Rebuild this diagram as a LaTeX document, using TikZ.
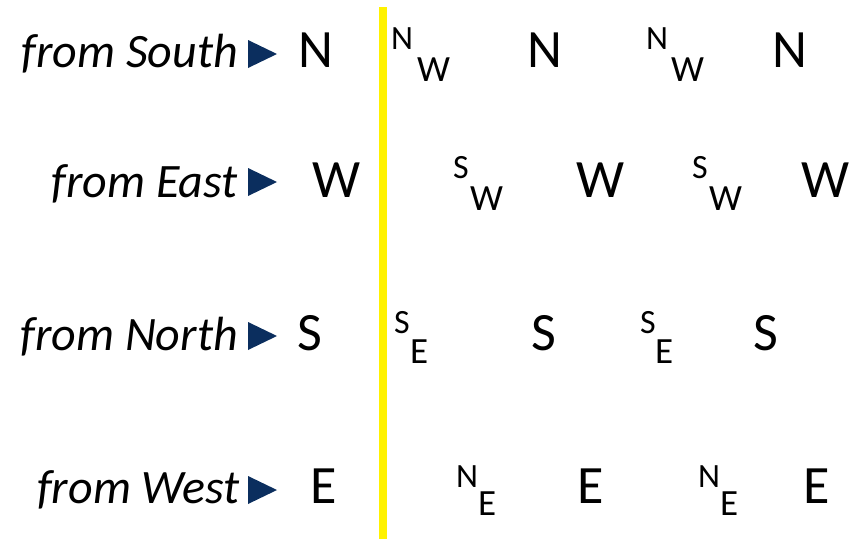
\documentclass[tikz,border=0pt]{standalone}
\usepackage{fontspec}
\setmainfont{Carlito}
\usetikzlibrary{calc}

\definecolor{navy}{RGB}{11,46,94}
\tikzset{
  from/.style={font=\fontsize{48}{50}\selectfont\itshape,anchor=base east,inner sep=0pt},
  dir/.style={font=\fontsize{54}{56}\selectfont,anchor=base west,inner sep=0pt},
  hi/.style={font=\fontsize{34}{36}\selectfont,anchor=base west,inner sep=0pt},
  lo/.style={font=\fontsize{37}{40}\selectfont,anchor=base west,inner sep=0pt},
  pointer/.style={fill=navy}
}

\begin{document}
\begin{tikzpicture}[x=1pt,y=-1pt]
  \useasboundingbox (0,0) rectangle (855,539);
  \fill[yellow] (379,7) rectangle (387,539);

  \node[from] (F1) at (238,67) {from South};
  \node[from] (F2) at (238,197) {from East};
  \node[from] (F3) at (238,350) {from North};
  \node[from] (F4) at (240,503) {from West};

  \fill[pointer] (248,40) -- (277,54) -- (248,68) -- cycle;
  \fill[pointer] (248,168) -- (277,182) -- (248,196) -- cycle;
  \fill[pointer] (248,322) -- (277,336) -- (248,350) -- cycle;
  \fill[pointer] (248,476) -- (277,490) -- (248,504) -- cycle;

  \node[dir] (D1) at (298,67) {N};
  \node[dir] (D2) at (312,197) {W};
  \node[dir] (D3) at (297,350) {S};
  \node[dir] (D4) at (310,503) {E};

  \node[hi] (A1) at (391,49) {N};
  \node[lo] (B1) at (417,81) {W};
  \node[dir] (C1) at (527,67) {N};
  \node[hi] (A2) at (646,49) {N};
  \node[lo] (B2) at (671,81) {W};
  \node[dir] (C2) at (772,67) {N};

  \node[hi] (A3) at (453,178) {S};
  \node[lo] (B3) at (470,210) {W};
  \node[dir] (C3) at (576,197) {W};
  \node[hi] (A4) at (692,178) {S};
  \node[lo] (B4) at (709,210) {W};
  \node[dir] (C4) at (801,197) {W};

  \node[hi] (A5) at (394,333) {S};
  \node[lo] (B5) at (410,363) {E};
  \node[dir] (C5) at (531,350) {S};
  \node[hi] (A6) at (640,333) {S};
  \node[lo] (B6) at (655,363) {E};
  \node[dir] (C6) at (753,350) {S};

  \node[hi] (A7) at (456,487) {N};
  \node[lo] (B7) at (478,515) {E};
  \node[dir] (C7) at (577,503) {E};
  \node[hi] (A8) at (698,487) {N};
  \node[lo] (B8) at (720,515) {E};
  \node[dir] (C8) at (803,503) {E};
\end{tikzpicture}
\end{document}
